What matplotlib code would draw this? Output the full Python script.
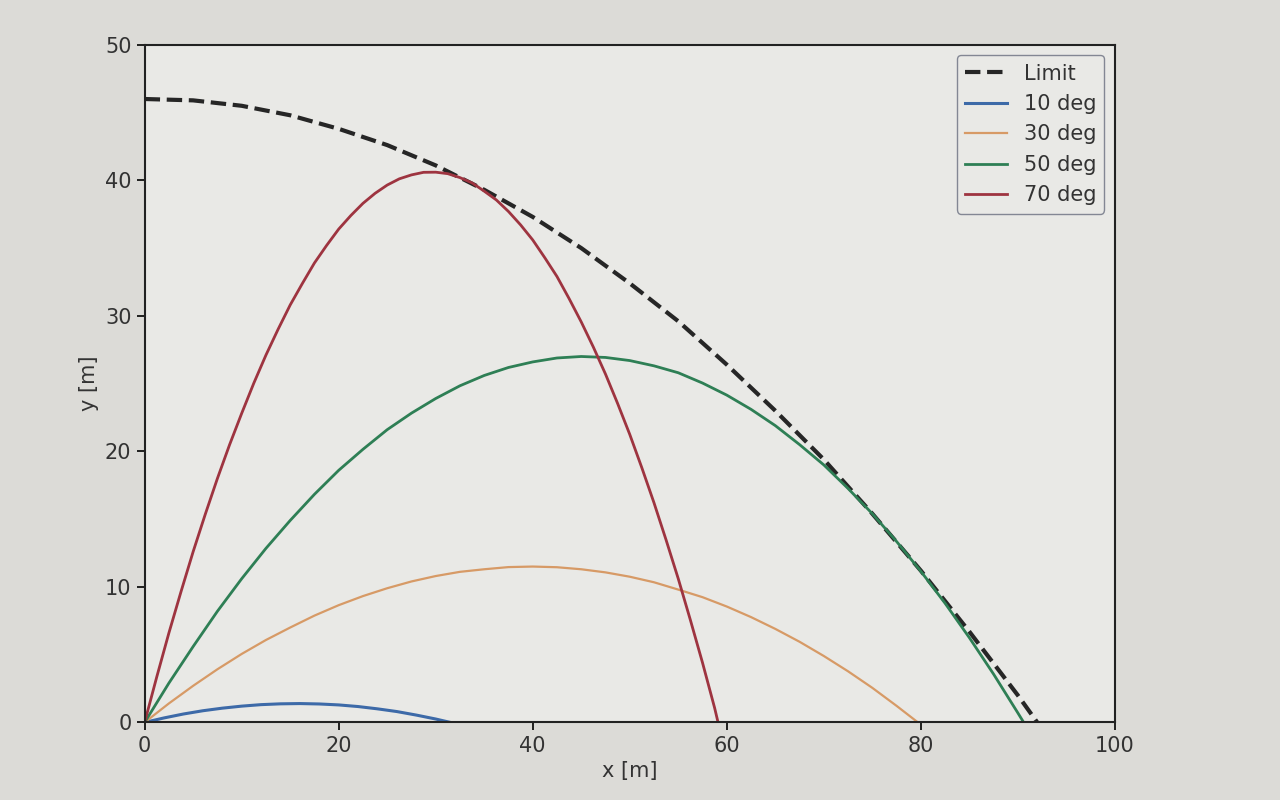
import numpy as np
import matplotlib.pyplot as plt

# values
limit_x = [0, 5, 10, 15, 20, 25, 30, 35, 40, 45, 50, 55, 60, 65, 70, 75, 80, 85, 90, 92]
limit_y = [46.0, 45.9, 45.5, 44.8, 43.8, 42.6, 41.1, 39.3, 37.3, 35.0, 32.4, 29.6, 26.4, 23.0, 19.4, 15.4, 11.2, 6.7, 2.0, 0.0]

x10 = [0, 2, 4, 6, 8, 10, 12, 14, 16, 18, 20, 22, 24, 26, 28, 30, 31.5]
y10 = [0, 0.33, 0.62, 0.86, 1.05, 1.2, 1.31, 1.37, 1.39, 1.36, 1.29, 1.17, 1.0, 0.8, 0.54, 0.25, 0]

x30 = [0, 2.5, 5, 7.5, 10, 12.5, 15, 17.5, 20, 22.5, 25, 27.5, 30, 32.5, 35, 37.5, 40,
       42.5, 45, 47.5, 50, 52.5, 55, 57.5, 60, 62.5, 65, 67.5, 70, 72.5, 75, 77.5, 79.7]
y30 = [0, 1.4, 2.7, 3.92, 5.05, 6.08, 7.0, 7.88, 8.65, 9.32, 9.9, 10.4, 10.8, 11.11, 11.3, 11.46, 11.5,
       11.45, 11.3, 11.07, 10.75, 10.34, 9.8, 9.24, 8.55, 7.77, 6.9, 5.95, 4.9, 3.77, 2.55, 1.22, 0]

x50 = [0, 2.5, 5, 7.5, 10, 12.5, 15, 17.5, 20, 22.5, 25, 27.5, 30, 32.5, 35, 37.5, 40, 42.5, 45,
       47.5, 50, 52.5, 55, 57.5, 60, 62.5, 65, 67.5, 70, 72.5, 75, 77.5, 80, 82.5, 85, 87.5, 90, 90.6]
y50 = [0, 2.9, 5.6, 8.2, 10.6, 12.84, 14.9, 16.83, 18.6, 20.15, 21.6, 22.82, 23.9, 24.84, 25.6, 26.19, 26.6, 26.89, 27.0,
       26.93, 26.7, 26.31, 25.8, 25.04, 24.15, 23.1, 21.9, 20.5, 19.0, 17.26, 15.4, 13.35, 11.15, 8.79, 6.25, 3.56, 0.7, 0]

x70 = [0, 1.25, 2.5, 3.75, 5, 6.25, 7.5, 8.75, 10, 11.25, 12.5, 13.75, 15, 16.25, 17.5, 18.75,
       20, 21.25, 22.5, 23.75, 25, 26.25, 27.5, 28.75, 30, 31.25, 32.5, 33.75, 35, 36.25,
       37.5, 38.75, 40, 41.25, 42.5, 43.75, 45, 46.25, 47.5, 48.75, 50, 51.25, 52.5, 53.75,
       55, 56.25, 57.5, 58.75, 59.1]
y70 = [0, 3.36, 6.6, 9.65, 12.6, 15.36, 18.0, 20.48, 22.8, 25.03, 27.1, 29.0, 30.8, 32.38, 33.9, 35.19,
       36.4, 37.4, 38.3, 39.04, 39.65, 40.11, 40.4, 40.59, 40.6, 40.49, 40.2, 39.81, 39.2, 38.55,
       37.7, 36.71, 35.6, 34.28, 32.9, 31.27, 29.55, 27.69, 25.7, 23.53, 21.25, 18.78, 16.2, 13.45,
       10.6, 7.55, 4.4, 1.06, 0]

colors = ['#3d6aa8', '#d79a66', '#2e7f55', '#9e3440']

fig = plt.figure(figsize=(12.8, 8), dpi=100, facecolor='#dcdbd7')
ax = fig.add_axes([0.113, 0.097, 0.758, 0.847])
ax.set_facecolor('#e9e9e6')

ax.plot(limit_x, limit_y, '--', color='#262626', lw=3, label='Limit')
ax.plot(x10, y10, color=colors[0], lw=2.2, label='10 deg')
ax.plot(x30, y30, color=colors[1], lw=1.6, label='30 deg')
ax.plot(x50, y50, color=colors[2], lw=2, label='50 deg')
ax.plot(x70, y70, color=colors[3], lw=2, label='70 deg')

ax.set_xlim(0, 100)
ax.set_ylim(0, 50)
ax.set_xlabel('x [m]', fontsize=15, color='#333333')
ax.set_ylabel('y [m]', fontsize=15, color='#333333')
ax.tick_params(labelsize=15, width=1.2, length=6, labelcolor='#333333')
for s in ax.spines.values():
    s.set_linewidth(1.5)
    s.set_color('#222222')

leg = ax.legend(loc='upper right', fontsize=15, facecolor='#e9e9e6', edgecolor='#6a6f80')
for t in leg.get_texts():
    t.set_color('#333333')

plt.savefig('out.png', dpi=100, facecolor=fig.get_facecolor())
